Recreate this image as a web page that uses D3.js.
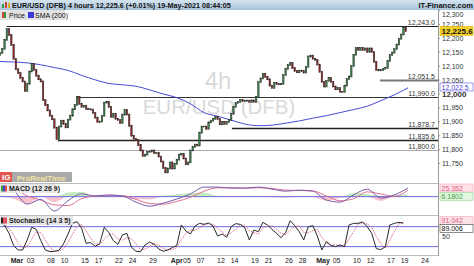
<!DOCTYPE html>
<html>
<head>
<meta charset="utf-8">
<script src="https://cdn.jsdelivr.net/npm/d3@7/dist/d3.min.js"></script>
<style>
  body { margin: 0; background: #fff; }
  svg { display: block; font-family: "Liberation Sans", Arial, sans-serif; }
</style>
</head>
<body>
<div id="chart"></div>
<script>
// 8-hour closes, first bar on Feb 25 (day -2.5 from Mar 01)
const barStartDay = -2.5;
const barsPerDay = 3;
const firstOpen = 12140;
const closes = [
  12148, 12162, 12194, 12234, 12212, 12176, 12126, 12089, 12075, 12057,
  12045, 12010, 12037, 12081, 12108, 12086, 12066, 12053, 12045, 11978,
  11960, 11941, 11922, 11909, 11879, 11838, 11883, 11904, 11893, 11880,
  11908, 11922, 11945, 11961, 11990, 11965, 11954, 11958, 11947, 11945,
  11944, 11931, 11915, 11899, 11901, 11922, 11969, 11972, 11953, 11918,
  11929, 11911, 11906, 11896, 11926, 11942, 11926, 11886, 11850, 11839,
  11834, 11816, 11797, 11777, 11782, 11792, 11793, 11797, 11787, 11787,
  11775, 11757, 11734, 11718, 11732, 11754, 11732, 11748, 11764, 11782,
  11785, 11768, 11747, 11754, 11797, 11809, 11818, 11815, 11861, 11883,
  11883, 11875, 11898, 11904, 11911, 11917, 11910, 11891, 11900, 11892,
  11899, 11907, 11929, 11954, 11968, 11972, 11978, 11974, 11976, 11976,
  11972, 11977, 11972, 11990, 12043, 12056, 12073, 12062, 12053, 12030,
  12022, 12039, 12036, 12035, 12037, 12068, 12090, 12104, 12111, 12093,
  12083, 12078, 12084, 12082, 12077, 12098, 12135, 12138, 12127, 12123,
  12106, 12080, 12043, 12027, 12047, 12058, 12043, 12027, 12017, 12021,
  12008, 12007, 12030, 12054, 12063, 12100, 12141, 12165, 12159, 12166,
  12158, 12164, 12152, 12164, 12151, 12116, 12087, 12085, 12086, 12091,
  12094, 12118, 12140, 12149, 12161, 12178, 12199, 12214, 12238, 12226
];

// SMA(200) and MACD, one value every 6 bars
const slowStep = 6;
const smaValues = [
  12117, 12115, 12112, 12105, 12095, 12085, 12067, 12051, 12038, 12033,
  12028, 12015, 12000, 11987, 11965, 11933, 11920, 11906, 11892, 11886,
  11888, 11895, 11903, 11913, 11922, 11933, 11944, 11956, 11976, 11997, 12022.5
];
const macdLine = [
  25, 16, -22, -8, -42, -12, 8, 2, 5, 2,
  -16, -28, -19, -7, 8, 28, 28, 25, 25, 28,
  22, 16, 19, 16, -10, -16, 5, 22, -4, 5, 25.352
];
const macdSignal = [
  22, 22, 2, -10, -24, -26, -6, 2, 3, 3,
  -8, -20, -22, -14, -2, 16, 26, 26, 25, 26,
  24, 19, 18, 17, 2, -12, -6, 14, 8, 1, 19.17
];
const macdHist = [
  3, -6, -21, 2, -16, 12, 14, 0, 2, -1,
  -8, -8, 3, 7, 10, 12, 2, -1, 0, 2,
  -2, -3, 1, -1, -12, -4, 11, 8, -12, 4, 6.1802
];

// Stochastic, one value every 2 bars
const stochStep = 2;
const stochK = [
  90, 84, 60, 23, 10, 10, 40, 78, 72, 38,
  10, 5, 6, 9, 28, 58, 90, 95, 75, 30,
  32, 21, 29, 78, 62, 38, 27, 55, 60, 18,
  6, 5, 25, 34, 27, 13, 6, 10, 17, 24,
  85, 67, 58, 82, 90, 87, 91, 82, 52, 58,
  48, 80, 89, 87, 77, 40, 70, 65, 93, 85,
  72, 60, 47, 62, 98, 83, 65, 40, 80, 83,
  52, 10, 35, 24, 20, 25, 20, 85, 90, 90,
  94, 80, 60, 14, 11, 20, 85, 90, 93, 91.042
];
const stochD = [
  88, 86, 75, 55, 30, 15, 20, 42, 64, 62,
  40, 18, 7, 7, 14, 32, 58, 80, 87, 67,
  45, 28, 27, 43, 56, 59, 43, 40, 47, 44,
  28, 10, 12, 21, 29, 25, 15, 10, 11, 17,
  42, 59, 70, 69, 77, 86, 89, 87, 75, 64,
  53, 62, 72, 85, 84, 68, 62, 58, 76, 81,
  83, 72, 60, 56, 69, 81, 82, 63, 61, 68,
  72, 48, 32, 23, 26, 23, 22, 43, 65, 88,
  91, 88, 78, 51, 28, 15, 39, 66, 89, 89.006
];

// support / resistance lines and the trading day where each starts
const levels = [12243.0, 12051.5, 11990.0, 11878.7, 11835.6, 11800.0];
const levelStartDays = [-1.5, 53.4, 8.8, 31.6, 6.0, -2.5];

const priceTicks = [12300, 12250, 12200, 12150, 12100, 12050, 12000, 11950, 11900, 11850, 11800, 11750];
const dateLabels = ['Mar', '03', '08', '10', '15', '17', '22', '24', '29', 'Apr', '05', '07', '12', '14',
  '19', '21', '26', '28', 'May', '05', '10', '12', '17', '19', '24'];
const dateDays = [0, 2, 5, 7, 10, 12, 15, 17, 20, 23.5, 25, 27, 30, 32, 35, 37, 40, 42, 45, 47, 50, 52, 55, 57, 60];

const lastPrice = '12,225.6';
const lastSma = '12,022.5';

const WIDTH = 474;
const HEIGHT = 266;
const AXIS_X = 438;
const MAIN_TOP = 20;
const MAIN_BOTTOM = 183;
const MACD_BOTTOM = 215;
const STOCH_BOTTOM = 255;

const fmt = d3.format(',.1f');

const svg = d3.create('svg').attr('width', WIDTH).attr('height', HEIGHT);
const defs = svg.append('defs');

const grad = defs.append('linearGradient').attr('id', 'titlebar').attr('x1', 0).attr('x2', 0).attr('y1', 0).attr('y2', 1);
grad.append('stop').attr('offset', '0%').attr('stop-color', '#d4e4f0');
grad.append('stop').attr('offset', '100%').attr('stop-color', '#a8c2d8');

const clip = (id, y0, y1) => defs.append('clipPath').attr('id', id)
  .append('rect').attr('x', 0).attr('y', y0).attr('width', AXIS_X).attr('height', y1 - y0);
clip('clip-main', MAIN_TOP, MAIN_BOTTOM);
clip('clip-macd', MAIN_BOTTOM, MACD_BOTTOM);
clip('clip-stoch', MACD_BOTTOM, STOCH_BOTTOM);

const xScale = d3.scaleLinear().domain([0, 60]).range([17, 425]);
const yPrice = d3.scaleLinear().domain([11750, 12250]).range([163.5, 24.5]);
const yMacd = d3.scaleLinear().domain([-50, 40]).range([213.7, 183]);
const yStoch = d3.scaleLinear().domain([0, 100]).range([253.3, 220]);

const dayOf = (i, step) => barStartDay + (i * step) / barsPerDay;

// ---- main panel ----
const main = svg.append('g').attr('clip-path', 'url(#clip-main)');

main.append('text')
  .attr('x', 218).attr('y', 89)
  .attr('text-anchor', 'middle')
  .attr('font-size', 24)
  .attr('fill', '#dadada')
  .text('4h');
main.append('text')
  .attr('x', 219).attr('y', 114)
  .attr('text-anchor', 'middle')
  .attr('font-size', 20.5)
  .attr('fill', '#dadada')
  .text('EUR/USD (DFB)');

levels.forEach((level, i) => {
  const y = Math.round(yPrice(level)) + 0.5;
  const styles = [
    { stroke: '#222', width: 1 },
    { stroke: '#777', width: 2 },
    { stroke: '#333', width: 1 },
    { stroke: '#222', width: 1.3 },
    { stroke: '#222', width: 1.3 },
    { stroke: '#aaa', width: 1 },
  ];
  main.append('line')
    .attr('x1', Math.max(0, xScale(levelStartDays[i])))
    .attr('x2', AXIS_X)
    .attr('y1', y).attr('y2', y)
    .attr('stroke', styles[i].stroke)
    .attr('stroke-width', styles[i].width);
  svg.append('text')
    .attr('x', 435).attr('y', y - 2)
    .attr('text-anchor', 'end')
    .attr('font-size', 7)
    .attr('fill', '#333')
    .text(fmt(level));
});

const smaLine = d3.line()
  .x((d, i) => xScale(dayOf(i, slowStep)))
  .y((d) => yPrice(d))
  .curve(d3.curveMonotoneX);
main.append('path')
  .attr('d', smaLine(smaValues))
  .attr('fill', 'none')
  .attr('stroke', '#4a4ad8')
  .attr('stroke-width', 1);

const bars = closes.map((close, i) => ({
  day: dayOf(i, 1),
  open: i ? closes[i - 1] : firstOpen,
  close,
}));
const barWidth = (xScale(1) - xScale(0)) / barsPerDay * 0.62;

main.selectAll('rect.candle')
  .data(bars)
  .join('rect')
  .attr('class', 'candle')
  .attr('x', (d) => xScale(d.day) - barWidth / 2)
  .attr('width', barWidth)
  .attr('y', (d) => yPrice(Math.max(d.open, d.close)) - 0.5)
  .attr('height', (d) => Math.abs(yPrice(d.open) - yPrice(d.close)) + 1)
  .attr('fill', (d) => (d.close >= d.open ? '#3c8c4c' : '#a02828'))
  .attr('stroke', '#1a1a1a')
  .attr('stroke-width', 0.5);

// logo
svg.append('rect').attr('x', 0).attr('y', 172).attr('width', 12).attr('height', 10).attr('fill', '#e0574e');
svg.append('text').attr('x', 2).attr('y', 180).attr('font-size', 8).attr('font-weight', 'bold')
  .attr('fill', '#fff').text('IG');
svg.append('rect').attr('x', 12).attr('y', 172).attr('width', 60).attr('height', 10).attr('fill', '#a9a9a9');
svg.append('text').attr('x', 17).attr('y', 180.5).attr('font-size', 8).attr('font-weight', 'bold')
  .attr('fill', '#f2e4a0').text('ProRealTime');

// ---- MACD panel ----
const macd = svg.append('g').attr('clip-path', 'url(#clip-macd)');
const histArea = (pick) => d3.area()
  .x((d, i) => xScale(dayOf(i, slowStep)))
  .y0(yMacd(0))
  .y1((d) => yMacd(pick(d)))
  .curve(d3.curveMonotoneX);
macd.append('path').attr('d', histArea((d) => Math.max(0, d))(macdHist))
  .attr('fill', '#b6e6ae').attr('opacity', 0.8);
macd.append('path').attr('d', histArea((d) => Math.min(0, d))(macdHist))
  .attr('fill', '#f5b4c4').attr('opacity', 0.8);

macd.append('line')
  .attr('x1', 0).attr('x2', AXIS_X)
  .attr('y1', yMacd(0)).attr('y2', yMacd(0))
  .attr('stroke', '#6a6ae0').attr('stroke-width', 1);

const macdPath = d3.line()
  .x((d, i) => xScale(dayOf(i, slowStep)))
  .y((d) => yMacd(d))
  .curve(d3.curveMonotoneX);
macd.append('path').attr('d', macdPath(macdSignal))
  .attr('fill', 'none').attr('stroke', '#e07090').attr('stroke-width', 1);
macd.append('path').attr('d', macdPath(macdLine))
  .attr('fill', 'none').attr('stroke', '#7a5aa8').attr('stroke-width', 1);

// ---- Stochastic panel ----
const stoch = svg.append('g').attr('clip-path', 'url(#clip-stoch)');
[80, 20].forEach((v) => {
  stoch.append('line')
    .attr('x1', 0).attr('x2', AXIS_X)
    .attr('y1', yStoch(v)).attr('y2', yStoch(v))
    .attr('stroke', '#6a6ae0').attr('stroke-width', 1);
});
const stochPath = d3.line()
  .x((d, i) => xScale(dayOf(i, stochStep)))
  .y((d) => yStoch(d));
stoch.append('path').attr('d', stochPath(stochD))
  .attr('fill', 'none').attr('stroke', '#e07080').attr('stroke-width', 1)
  .attr('stroke-dasharray', '1.5,1');
stoch.append('path').attr('d', stochPath(stochK))
  .attr('fill', 'none').attr('stroke', '#2a2a2a').attr('stroke-width', 1);

// ---- panel frames ----
[MAIN_BOTTOM, MACD_BOTTOM, STOCH_BOTTOM].forEach((y) => {
  svg.append('line').attr('x1', 0).attr('x2', AXIS_X)
    .attr('y1', y + 0.5).attr('y2', y + 0.5)
    .attr('stroke', '#bbb');
});
svg.append('line').attr('x1', AXIS_X + 0.5).attr('x2', AXIS_X + 0.5)
  .attr('y1', 10).attr('y2', STOCH_BOTTOM + 1)
  .attr('stroke', '#999');

// panel labels
const panelLabel = (y, w, text, colors) => {
  svg.append('rect').attr('x', 0).attr('y', y).attr('width', w).attr('height', 9).attr('fill', '#e6e6e6');
  colors.forEach((c, i) => {
    svg.append('rect').attr('x', 1 + i * 2).attr('y', y + 1.5).attr('width', 2).attr('height', 6).attr('fill', c);
  });
  svg.append('text').attr('x', 9).attr('y', y + 7.3).attr('font-size', 7).attr('font-weight', 'bold')
    .attr('fill', '#222').text(text);
};
panelLabel(184, 56, 'MACD (12 26 9)', ['#40a040', '#4040c0', '#e05060']);
panelLabel(216, 73, 'Stochastic (14 3 5)', ['#222', '#e05060', '#e05060']);

// ---- right price axis ----
const axis = svg.append('g');
axis.selectAll('text.tick')
  .data(priceTicks)
  .join('text')
  .attr('class', 'tick')
  .attr('x', 442)
  .attr('y', (d) => Math.max(14, yPrice(d)) + 2.5)
  .attr('font-size', (d) => (d === 12000 ? 8 : 7))
  .attr('font-weight', (d) => (d === 12000 ? 'bold' : 'normal'))
  .attr('fill', '#333')
  .text((d) => d3.format(',')(d));
axis.selectAll('line.tick')
  .data(priceTicks)
  .join('line')
  .attr('class', 'tick')
  .attr('x1', AXIS_X).attr('x2', AXIS_X + 2)
  .attr('y1', (d) => yPrice(d)).attr('y2', (d) => yPrice(d))
  .attr('stroke', '#999');

const valueBox = (y, text, opts) => {
  svg.append('rect').attr('x', 440).attr('y', y).attr('width', 33).attr('height', opts.h || 8)
    .attr('fill', opts.bg).attr('stroke', opts.border).attr('stroke-width', 0.6);
  svg.append('text').attr('x', 441.5).attr('y', y + (opts.h || 8) - 1.5)
    .attr('font-size', opts.size || 7).attr('font-weight', opts.bold ? 'bold' : 'normal')
    .attr('fill', opts.color).text(text);
};
valueBox(26.5, lastPrice, { bg: '#f3cf2a', border: '#e0b800', color: '#111', bold: true, size: 8, h: 9 });
valueBox(83, lastSma, { bg: '#fff', border: '#5a5ae0', color: '#4848d8' });
valueBox(184, d3.format('.3f')(macdLine[macdLine.length - 1]), { bg: '#fde2e8', border: '#f0a8b8', color: '#e06080' });
valueBox(192.5, d3.format('.4f')(macdHist[macdHist.length - 1]), { bg: '#e2f6e0', border: '#98d890', color: '#40a040' });
valueBox(216.5, d3.format('.3f')(stochK[stochK.length - 1]), { bg: '#fde2e8', border: '#f0a8b8', color: '#e06080' });
valueBox(224.5, d3.format('.3f')(stochD[stochD.length - 1]), { bg: '#fff', border: '#444', color: '#111' });
svg.append('text').attr('x', 442).attr('y', yStoch(50) + 2.5).attr('font-size', 7).attr('fill', '#333').text('50');

// ---- date axis ----
svg.selectAll('text.date')
  .data(dateLabels)
  .join('text')
  .attr('class', 'date')
  .attr('x', (d, i) => xScale(dateDays[i]))
  .attr('y', 263)
  .attr('text-anchor', 'middle')
  .attr('font-size', 7)
  .attr('font-weight', (d) => (isNaN(+d) ? 'bold' : 'normal'))
  .attr('fill', '#222')
  .text((d) => d);

// ---- title and legend ----
svg.append('rect').attr('x', 0).attr('y', 0).attr('width', WIDTH).attr('height', 10).attr('fill', 'url(#titlebar)');
svg.append('rect').attr('x', 2).attr('y', 4).attr('width', 2).attr('height', 4).attr('fill', '#3a9a3a');
svg.append('rect').attr('x', 5).attr('y', 2).attr('width', 2).attr('height', 6).attr('fill', '#d04040');
svg.append('rect').attr('x', 8).attr('y', 3).attr('width', 2).attr('height', 5).attr('fill', '#e0b020');
svg.append('text').attr('x', 12).attr('y', 8).attr('font-size', 7.2).attr('font-weight', 'bold')
  .attr('fill', '#111').text('EUR/USD (DFB) 4 hours 12,225.6 (+0.01%) 19-May-2021 08:44:05');
svg.append('text').attr('x', 473).attr('y', 8).attr('text-anchor', 'end').attr('font-size', 7.5)
  .attr('font-weight', 'bold').attr('fill', '#111').text('IT-Finance.com');

svg.append('rect').attr('x', 0).attr('y', 10).attr('width', 65).attr('height', 10).attr('fill', '#e2e2e2');
svg.append('rect').attr('x', 2).attr('y', 12).attr('width', 2).attr('height', 6).attr('fill', '#d04040');
svg.append('rect').attr('x', 4).attr('y', 12).attr('width', 2).attr('height', 6).attr('fill', '#3a9a3a');
svg.append('text').attr('x', 9).attr('y', 17.8).attr('font-size', 7).attr('fill', '#111').text('Price');
svg.append('rect').attr('x', 28).attr('y', 12).attr('width', 6).attr('height', 6).attr('fill', '#3a3ad8');
svg.append('text').attr('x', 35).attr('y', 17.8).attr('font-size', 7).attr('fill', '#111').text('SMA (200)');

document.getElementById('chart').appendChild(svg.node());
</script>
</body>
</html>
